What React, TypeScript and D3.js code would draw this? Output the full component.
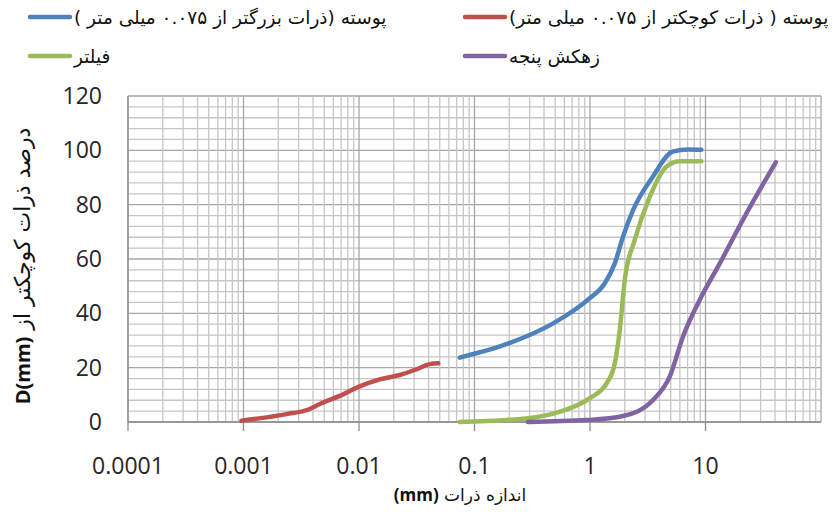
import React from "react"
import * as d3 from "d3"

// sieve curves (size in mm, percent passing)
const redX = [0.00096, 0.00158, 0.00235, 0.0037, 0.00457, 0.0068, 0.01, 0.0151, 0.0225, 0.0314, 0.041, 0.0486]
const redY = [0.5, 1.7, 2.9, 4.7, 6.6, 9.6, 13, 15.7, 17.3, 19.4, 21.3, 21.6]
const blueX = [0.0745, 0.2, 0.48, 0.99, 1.34, 1.64, 1.93, 2.36, 3.5, 5.2, 7.1, 9.2]
const blueY = [23.7, 29, 36.3, 45.5, 51, 58.4, 68.2, 78, 90.3, 99.5, 100.3, 100.2]
const greenX = [0.0745, 0.28, 0.55, 0.99, 1.39, 1.64, 1.81, 2.0, 2.44, 3.29, 4.58, 6.0, 9.2]
const greenY = [0, 1.3, 3.8, 8.7, 14.2, 21.6, 33.9, 52.3, 67, 82.9, 94, 96, 96]
const purpleX = [0.29, 0.93, 1.93, 3.51, 4.9, 6.38, 8.9, 13.3, 22.6, 40.6]
const purpleY = [0, 0.7, 2.2, 8.1, 16.7, 31.4, 44.9, 58.4, 76.8, 95.6]

const seriesNames = [
    "پوسته ( ذرات کوچکتر از ۰.۰۷۵ میلی متر)",
    "پوسته (ذرات بزرگتر از ۰.۰۷۵ میلی متر )",
    "فیلتر",
    "زهکش پنجه",
]
const xTicks = [0.0001, 0.001, 0.01, 0.1, 1, 10]
const xTickLabels = ["0.0001", "0.001", "0.01", "0.1", "1", "10"]
const yTicks = [0, 20, 40, 60, 80, 100, 120]

const numFont = "'Open Sans', sans-serif"
const faFont = "'DejaVu Sans', sans-serif"

export default function App() {
    const width = 839
    const height = 512
    const x = d3.scaleLog().domain([0.0001, 100]).range([128, 821])
    const y = d3.scaleLinear().domain([0, 120]).range([422, 96])

    const line = d3
        .line<[number, number]>()
        .x(d => x(d[0]))
        .y(d => y(d[1]))
        .curve(d3.curveMonotoneX)

    const series = [
        { xs: redX, ys: redY, color: "#c0504d" },
        { xs: blueX, ys: blueY, color: "#4f81bd" },
        { xs: greenX, ys: greenY, color: "#9bbb59" },
        { xs: purpleX, ys: purpleY, color: "#8064a2" },
    ]

    // log grid: 1..9 in every decade
    const vGrid: { v: number; major: boolean }[] = []
    for (let e = -4; e < 2; e++) {
        for (let m = 1; m < 10; m++) vGrid.push({ v: m * Math.pow(10, e), major: m === 1 })
    }
    vGrid.push({ v: 100, major: true })
    const hGrid = d3.range(0, 121, 4).map(v => ({ v, major: v % 20 === 0 }))

    // legend slots: [line start x, y]
    const legendPos = [
        [465, 17],
        [30, 17],
        [30, 56],
        [465, 56],
    ]

    return (
        <svg width={width} height={height} style={{ display: "block", position: "absolute", left: 0, top: 0 }}>
            <rect width={width} height={height} fill="#fff" />
            <g>
                {hGrid.map(d => (
                    <line key={"h" + d.v} x1={x(0.0001)} x2={x(100)} y1={y(d.v)} y2={y(d.v)}
                        stroke={d.major ? "#a6a6a6" : "#c6c6c6"} strokeWidth={1.3} />
                ))}
                {vGrid.map((d, i) => (
                    <line key={"v" + i} x1={x(d.v)} x2={x(d.v)} y1={y(0)} y2={y(120)}
                        stroke={d.major ? "#a6a6a6" : "#c6c6c6"} strokeWidth={1.3} />
                ))}
                <line x1={x(0.0001)} x2={x(100)} y1={y(0)} y2={y(0)} stroke="#8c8c8c" strokeWidth={1.3} />
                <line x1={x(0.0001)} x2={x(0.0001)} y1={y(0)} y2={y(120)} stroke="#8c8c8c" strokeWidth={1.3} />
                {xTicks.map(t => (
                    <line key={"t" + t} x1={x(t)} x2={x(t)} y1={y(0)} y2={y(0) + 9} stroke="#8c8c8c" strokeWidth={1.3} />
                ))}
            </g>
            <g fontFamily={numFont} fontSize={23} fill="#262626">
                {xTicks.map((t, i) => (
                    <text key={"xl" + t} x={x(t)} y={474} textAnchor="middle">{xTickLabels[i]}</text>
                ))}
                {yTicks.map(t => (
                    <text key={"yl" + t} x={102} y={y(t) + 8} textAnchor="end">{t}</text>
                ))}
            </g>
            <g fill="none" strokeWidth={4.5} strokeLinecap="round" strokeLinejoin="round">
                {series.map((s, i) => (
                    <path key={"s" + i} d={line(s.xs.map((v, j) => [v, s.ys[j]]) as [number, number][]) || ""} stroke={s.color} />
                ))}
            </g>
            <g>
                {series.map((s, i) => (
                    <g key={"lg" + i}>
                        <line x1={legendPos[i][0]} x2={legendPos[i][0] + 40} y1={legendPos[i][1]} y2={legendPos[i][1]}
                            stroke={s.color} strokeWidth={4.5} strokeLinecap="round" />
                        <text x={legendPos[i][0] + 44} y={legendPos[i][1] + 7} direction="rtl" textAnchor="end"
                            fontFamily={faFont} fontSize={18.5} fill="#111">{seriesNames[i]}</text>
                    </g>
                ))}
            </g>
            <text x={460} y={501} direction="rtl" textAnchor="middle" fontFamily={faFont} fontSize={17} fill="#111">
                اندازه ذرات <tspan fontFamily={numFont} fontWeight="bold">(mm)</tspan>
            </text>
            <text transform="translate(30,266) rotate(-90)" direction="rtl" textAnchor="middle"
                fontFamily={faFont} fontSize={22} fill="#111">
                درصد ذرات کوچکتر از <tspan fontFamily={numFont} fontSize={20} fontWeight="bold">D(mm)</tspan>
            </text>
        </svg>
    )
}
